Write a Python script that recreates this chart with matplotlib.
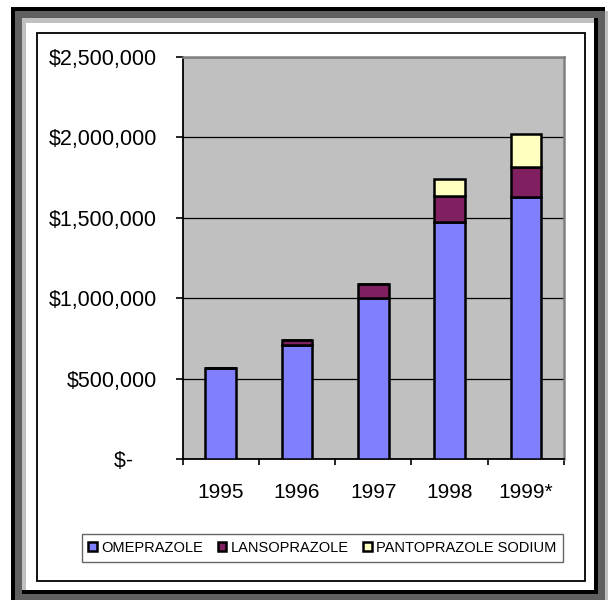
import matplotlib
matplotlib.use("Agg")
import matplotlib.pyplot as plt
from matplotlib.patches import Rectangle
from matplotlib.ticker import FixedLocator

plt.rcParams['font.family'] = ['Liberation Sans', 'DejaVu Sans']

years = ['1995', '1996', '1997', '1998', '1999*']
omeprazole = [563000, 712000, 1004000, 1471000, 1629000]
lansoprazole = [0, 31000, 87000, 164000, 190000]
pantoprazole = [0, 0, 0, 106000, 202000]
series_names = ['OMEPRAZOLE', 'LANSOPRAZOLE', 'PANTOPRAZOLE SODIUM']
y_ticks = [0, 500000, 1000000, 1500000, 2000000, 2500000]
y_labels = ['$-    ', '$500,000', '$1,000,000', '$1,500,000', '$2,000,000', '$2,500,000']

W, H = 608, 600
fig = plt.figure(figsize=(W / 100, H / 100), dpi=100)


def px_rect(x0, y0, x1, y1, color, z=0):
    # rectangle given in pixel coords, origin top-left
    fig.patches.append(Rectangle((x0 / W, 1 - y1 / H), (x1 - x0) / W, (y1 - y0) / H,
                                 transform=fig.transFigure, facecolor=color,
                                 edgecolor='none', zorder=z))


# picture frame around the chart
dark, light = '#606060', '#c0c0c0'
px_rect(15, 11, 22, 600, dark)
px_rect(15, 11, 605, 18, dark)
px_rect(598, 11, 605, 600, dark)
px_rect(15, 594, 605, 600, dark)
px_rect(22, 18, 26, 590, light)
px_rect(22, 18, 595, 23, light)
px_rect(605, 11, 608, 600, light)
px_rect(11, 7, 605, 11, 'black')
px_rect(11, 7, 15, 600, 'black')
px_rect(594, 18, 598, 594, 'black')
px_rect(22, 590, 598, 594, 'black')

# chart area border
fig.patches.append(Rectangle((37 / W, 1 - 581 / H), (585 - 37) / W, (581 - 33) / H,
                             transform=fig.transFigure, facecolor='none',
                             edgecolor='black', linewidth=1.3))

ax = fig.add_axes([182.5 / W, 1 - 459 / H, (564 - 182.5) / W, (459 - 57) / H])
ax.set_facecolor('#c0c0c0')

x = range(len(years))
bottom2 = [a + b for a, b in zip(omeprazole, lansoprazole)]
bar_kw = dict(width=0.4, edgecolor='black', linewidth=1.8, zorder=3)
b1 = ax.bar(x, omeprazole, color='#8080ff', **bar_kw)
b2 = ax.bar(x, lansoprazole, bottom=omeprazole, color='#802060', **bar_kw)
b3 = ax.bar(x, pantoprazole, bottom=bottom2, color='#ffffc0', **bar_kw)

ax.set_xlim(-0.5, len(years) - 0.5)
ax.set_ylim(0, 2500000)
ax.set_yticks(y_ticks)
ax.set_yticklabels(y_labels)
ax.yaxis.grid(True, color='black', linewidth=0.9, zorder=1)
ax.set_axisbelow(True)

ax.set_xticks(list(x))
ax.set_xticklabels(years)
ax.xaxis.set_minor_locator(FixedLocator([i - 0.5 for i in range(len(years) + 1)]))
ax.tick_params(axis='x', which='major', length=0, pad=17, labelsize=15)
ax.tick_params(axis='x', which='minor', length=4.5, width=1.2, color='black')
ax.tick_params(axis='y', length=5, width=1.2, pad=13.3, labelsize=15.5)

ax.spines['left'].set_color('black')
ax.spines['bottom'].set_color('black')
ax.spines['left'].set_linewidth(1.3)
ax.spines['bottom'].set_linewidth(1.3)
for side in ('top', 'right'):
    ax.spines[side].set_color('#808080')
    ax.spines[side].set_linewidth(1.8)

leg = fig.legend([b1, b2, b3], series_names, loc='center',
                 bbox_to_anchor=(322.5 / W, 1 - 548 / H), ncol=3,
                 fontsize=10.5, frameon=True, fancybox=False,
                 handlelength=0.6, handleheight=0.6, handletextpad=0.3,
                 columnspacing=1.0, borderpad=0.45, borderaxespad=0)
leg.get_frame().set_edgecolor('#404040')
leg.get_frame().set_linewidth(1.0)

fig.savefig('out.png', dpi=100)
